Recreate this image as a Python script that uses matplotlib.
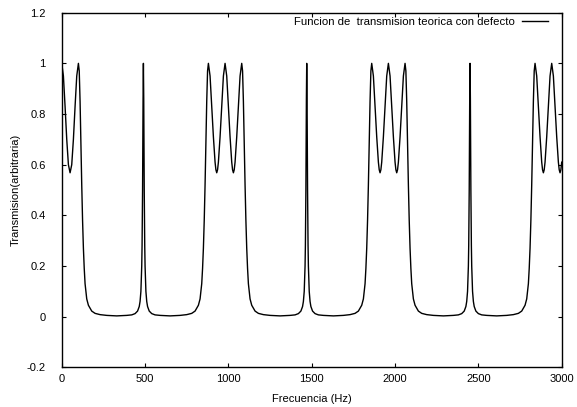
import matplotlib
matplotlib.use('Agg')
import matplotlib.pyplot as plt

###############################
# data
###############################

freq = [
    0, 10, 20, 30, 40, 50, 60, 70, 80, 90, 100,
    105, 110, 115, 120, 125, 130, 135, 140, 150, 160, 180, 200, 230, 270, 330,
    390, 420, 440, 455, 465, 470, 475, 480, 482, 485, 488, 490,
    492, 495, 498, 500, 505, 510, 515, 525, 540, 560, 590, 650,
    710, 750, 780, 800, 820, 830, 840, 845, 850, 855, 860, 865, 870, 875, 880,
    890, 900, 910, 920, 925, 930, 935, 940, 950, 960, 970, 980,
    990, 1000, 1010, 1020, 1025, 1030, 1035, 1040, 1050, 1060, 1070, 1080,
    1085, 1090, 1095, 1100, 1105, 1110, 1115, 1120, 1130, 1140, 1160, 1180, 1210, 1250, 1310,
    1370, 1400, 1420, 1435, 1445, 1450, 1455, 1460, 1462, 1465, 1468, 1470,
    1472, 1475, 1478, 1480, 1485, 1490, 1495, 1505, 1520, 1540, 1570, 1630,
    1690, 1730, 1760, 1780, 1800, 1810, 1820, 1825, 1830, 1835, 1840, 1845, 1850, 1855, 1860,
    1870, 1880, 1890, 1900, 1905, 1910, 1915, 1920, 1930, 1940, 1950, 1960,
    1970, 1980, 1990, 2000, 2005, 2010, 2015, 2020, 2030, 2040, 2050, 2060,
    2065, 2070, 2075, 2080, 2085, 2090, 2095, 2100, 2110, 2120, 2140, 2160, 2190, 2230, 2290,
    2350, 2380, 2400, 2415, 2425, 2430, 2435, 2440, 2442, 2445, 2448, 2450,
    2452, 2455, 2458, 2460, 2465, 2470, 2475, 2485, 2500, 2520, 2550, 2610,
    2670, 2710, 2740, 2760, 2780, 2790, 2800, 2805, 2810, 2815, 2820, 2825, 2830, 2835, 2840,
    2850, 2860, 2870, 2880, 2885, 2890, 2895, 2900, 2910, 2920, 2930, 2940,
    2950, 2960, 2970, 2980, 2985, 2990, 2995, 3000,
]

trans = [
    1.0, 0.95, 0.83, 0.70, 0.60, 0.568, 0.60, 0.70, 0.83, 0.95, 1.0,
    0.97, 0.85, 0.68, 0.52, 0.38, 0.27, 0.19, 0.13, 0.07, 0.045, 0.022, 0.013, 0.008, 0.005, 0.003,
    0.005, 0.007, 0.012, 0.022, 0.04, 0.06, 0.1, 0.2, 0.28, 0.5, 0.86, 1.0,
    0.86, 0.5, 0.28, 0.2, 0.1, 0.06, 0.04, 0.022, 0.012, 0.007, 0.005, 0.003,
    0.005, 0.008, 0.013, 0.022, 0.045, 0.07, 0.13, 0.19, 0.27, 0.38, 0.52, 0.68, 0.85, 0.97, 1.0,
    0.95, 0.83, 0.71, 0.61, 0.58, 0.568, 0.58, 0.61, 0.71, 0.83, 0.95, 1.0,
    0.95, 0.83, 0.71, 0.61, 0.58, 0.568, 0.58, 0.61, 0.71, 0.83, 0.95, 1.0,
    0.97, 0.85, 0.68, 0.52, 0.38, 0.27, 0.19, 0.13, 0.07, 0.045, 0.022, 0.013, 0.008, 0.005, 0.003,
    0.005, 0.007, 0.012, 0.022, 0.04, 0.06, 0.1, 0.2, 0.28, 0.5, 0.86, 1.0,
    0.86, 0.5, 0.28, 0.2, 0.1, 0.06, 0.04, 0.022, 0.012, 0.007, 0.005, 0.003,
    0.005, 0.008, 0.013, 0.022, 0.045, 0.07, 0.13, 0.19, 0.27, 0.38, 0.52, 0.68, 0.85, 0.97, 1.0,
    0.95, 0.83, 0.71, 0.61, 0.58, 0.568, 0.58, 0.61, 0.71, 0.83, 0.95, 1.0,
    0.95, 0.83, 0.71, 0.61, 0.58, 0.568, 0.58, 0.61, 0.71, 0.83, 0.95, 1.0,
    0.97, 0.85, 0.68, 0.52, 0.38, 0.27, 0.19, 0.13, 0.07, 0.045, 0.022, 0.013, 0.008, 0.005, 0.003,
    0.005, 0.007, 0.012, 0.022, 0.04, 0.06, 0.1, 0.2, 0.28, 0.5, 0.86, 1.0,
    0.86, 0.5, 0.28, 0.2, 0.1, 0.06, 0.04, 0.022, 0.012, 0.007, 0.005, 0.003,
    0.005, 0.008, 0.013, 0.022, 0.045, 0.07, 0.13, 0.19, 0.27, 0.38, 0.52, 0.68, 0.85, 0.97, 1.0,
    0.95, 0.83, 0.71, 0.61, 0.58, 0.568, 0.58, 0.61, 0.71, 0.83, 0.95, 1.0,
    0.95, 0.83, 0.71, 0.61, 0.58, 0.568, 0.58, 0.61,
]

xticks = [0, 500, 1000, 1500, 2000, 2500, 3000]
yticks = [-0.2, 0, 0.2, 0.4, 0.6, 0.8, 1, 1.2]
ytick_labels = ['-0.2', '0', '0.2', '0.4', '0.6', '0.8', '1', '1.2']

###############################
# plot
###############################

plt.rcParams['font.family'] = ['Liberation Sans', 'DejaVu Sans']
plt.rcParams['font.size'] = 8

fig = plt.figure(figsize=(5.77, 4.07), dpi=100)
ax = fig.add_axes([0.107, 0.0975, 0.8665, 0.8713])

ax.plot(freq, trans, color='black', lw=1.0,
        label='Funcion de  transmision teorica con defecto')

ax.set_xlim(0, 3000)
ax.set_ylim(-0.2, 1.2)
ax.set_xticks(xticks)
ax.set_yticks(yticks)
ax.set_yticklabels(ytick_labels)
ax.tick_params(direction='in', length=3, width=0.8, top=True, right=True,
               labelsize=8, colors='black')
ax.tick_params(axis='y', pad=11.5)
ax.tick_params(axis='x', pad=5)
for s in ax.spines.values():
    s.set_linewidth(1.0)

ax.set_xlabel('Frecuencia (Hz)', labelpad=7)
ax.set_ylabel('Transmision(arbitraria)', labelpad=4.5)

ax.legend(loc='upper right', bbox_to_anchor=(0.973, 0.989), frameon=False,
          markerfirst=False, borderpad=0, borderaxespad=0,
          handlelength=2.3, handletextpad=0.6, fontsize=8.2)

fig.savefig('out.png', dpi=100)
